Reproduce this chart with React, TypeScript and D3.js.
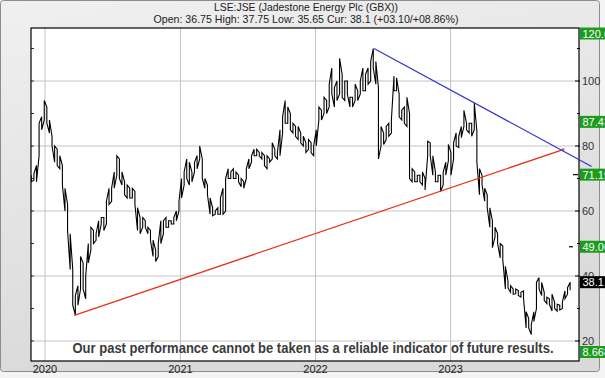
import React from 'react';
import * as d3 from 'd3';

const W = 605;
const H = 378;

// weekly bars (Monday weeks starting 2019-11-25)
const weekStart = Date.UTC(2019, 10, 25);
const highs = [
  71, 71.5, 74, 87, 89, 94, 92, 88, 83, 80, 79, 77, 74, 67, 62, 53, 42, 34, 37, 46,
  44, 40, 50, 55, 54, 53, 57, 58, 58, 63, 67, 67, 72, 77, 76, 72, 69, 68, 67, 67,
  66, 61, 58, 58, 57, 55, 54, 51, 48, 50, 57, 57, 58, 57, 57, 58, 60, 63, 70, 72,
  76, 75, 72, 75, 77, 80, 76, 70, 68, 64, 61, 60, 61, 64, 67, 70, 73, 72, 73, 72,
  71, 70, 69, 73, 76, 77, 79, 79, 78, 78, 77, 77, 76, 81, 79, 78, 85, 89, 94, 92,
  90, 87, 86, 86, 84, 83, 81, 82, 81, 80, 85, 92, 91, 95, 94, 99, 104, 98, 100, 107,
  102, 100, 100, 95, 95, 99, 97, 100, 104, 102, 104, 106, 110, 106, 98, 86, 84, 86, 87, 88,
  101.5, 101, 96, 91, 92, 95, 90, 73, 72, 71, 71, 72, 70, 81.5, 81, 77, 72, 71, 71, 72,
  75, 80.5, 78, 81, 84, 83, 86, 91, 87, 87, 87, 93.3, 84.6, 73, 71, 67, 65, 61, 57, 55,
  53, 50, 49.2, 43, 38.5, 37, 36, 36, 35.5, 35, 35.4, 29, 27, 25, 29, 38, 39.5, 38, 35,
  33.5, 33, 34.4, 32, 31.3, 31, 32, 35.4, 36.4, 38.1,
];
const lows = [
  69, 69.5, 69, 77, 85, 88, 87, 84, 80, 75, 74, 73, 68, 60, 54, 42, 31, 28, 31, 36,
  36, 33, 44, 48, 50, 51, 52, 56, 54, 56, 62, 63, 67, 71, 70, 68, 65, 64, 64, 64,
  62, 54, 53, 55, 55, 53, 51, 46, 44.5, 46, 50, 53, 55, 55, 56, 56, 57, 60, 64, 68,
  70, 68, 69, 72, 73, 76, 70, 67, 65, 59, 58.5, 59, 59, 59, 59, 60, 70, 70, 70, 70,
  69, 67.5, 67, 70, 73, 75, 77, 77, 77, 76, 74, 73, 75, 76, 77, 76, 77, 84, 87, 87,
  85, 84, 83, 82, 81, 80, 78, 79, 78, 77, 80, 88, 88, 90, 90, 92, 96, 92, 94, 96,
  95, 94, 96, 92, 92, 94, 94, 96, 97, 97, 99, 100, 104, 99, 76, 80, 80.5, 82, 83, 84,
  97, 97, 89, 88, 87, 86, 70, 69, 69, 69, 69, 68, 66.5, 77, 77, 71, 69, 69, 66, 68,
  71, 75.5, 71, 76, 80, 79.5, 82.6, 86, 85, 84, 83, 85, 75, 65, 68, 63, 61, 55, 48.7, 52,
  50, 45.6, 45, 36, 36.4, 35, 34.4, 34.5, 34, 33.5, 33.3, 24, 24, 22, 26, 30, 36, 34, 32.5,
  31.5, 31.3, 29.2, 30, 29.2, 29.5, 30, 33, 34.4, 35.6,
];

const yearTicks = ['2020', '2021', '2022', '2023'];
const gridValues = [100, 80, 60, 40, 20];
const minorValues = [110, 90, 70, 50, 30];
const leftMinorValues = [110, 100, 90, 80, 70, 60, 50, 40, 30, 20];

const redLineDates = ['2020-03-20', '2023-11-01'];
const redLineValues = [27.9, 78.9];
const blueLineDates = ['2022-06-08', '2024-01-17'];
const blueLineValues = [110, 73.7];

const targetTexts = ['120.00', '87.43', '71.19', '49.00', '8.668'];
const targetValues = [120, 87.43, 71.19, 49.0, 8.668];
const markValues = [71.19, 49.0];
const curText = '38.1';
const curValue = 38.1;

const title1 = 'LSE:JSE (Jadestone Energy Plc (GBX))';
const title2 = 'Open: 36.75 High: 37.75 Low: 35.65 Cur: 38.1 (+03.10/+08.86%)';
const disclaimer = 'Our past performance cannot be taken as a reliable indicator of future results.';

export default function App() {
  const left = 31;
  const right = 579;
  const top = 28;
  const bottom = 361;

  const x = d3
    .scaleUtc()
    .domain([Date.UTC(2020, 0, 1), Date.UTC(2023, 0, 1)])
    .range([45, 450.6]);
  const y = d3.scaleLinear().domain([20, 100]).range([341, 81]);

  const dates = highs.map((_, i) => d3.utcMonday.offset(new Date(weekStart), i));
  const pts: [number, number][] = [];
  highs.forEach((h, i) => {
    const px = x(dates[i]);
    const a: [number, number] = [px, y(h)];
    const b: [number, number] = [px, y(lows[i])];
    if (i % 2 === 0) pts.push(a, b);
    else pts.push(b, a);
  });
  const pricePath = d3.line()(pts) || '';

  const toPts = (ds: string[], vs: number[]) =>
    ds.map((d, i) => [x(new Date(d + 'T00:00:00Z')), y(vs[i])] as [number, number]);
  const redPts = toPts(redLineDates, redLineValues);
  const bluePts = toPts(blueLineDates, blueLineValues);

  const clampY = (v: number) => Math.max(33.5, Math.min(352, y(v)));
  const font = "'Liberation Sans', Arial, sans-serif";

  return (
    <svg
      width={W}
      height={H}
      style={{ position: 'absolute', left: 0, top: 0 }}
      fontFamily={font}
    >
      <defs>
        <linearGradient id="bg" x1="0" y1="0" x2="0.3" y2="1">
          <stop offset="0" stopColor="#f0f0f0" />
          <stop offset="1" stopColor="#d9d9d9" />
        </linearGradient>
        <clipPath id="plotClip">
          <rect x={left} y={top} width={right - left} height={bottom - top} />
        </clipPath>
      </defs>
      <rect x={0} y={0} width={W} height={H} fill="#f4f4f4" />
      <rect x={0.5} y={0.5} width={599} height={371} rx={3} fill="url(#bg)" stroke="#8c8c8c" />
      <rect x={left} y={top} width={right - left} height={bottom - top} fill="#ffffff" />

      {/* grid */}
      {gridValues.map((v) => (
        <line key={'g' + v} x1={left} x2={right} y1={y(v)} y2={y(v)} stroke="#c4c4c4" strokeWidth={1} />
      ))}
      {yearTicks.map((yr) => {
        const px = x(new Date(yr + '-01-01T00:00:00Z'));
        return <line key={'v' + yr} x1={px} x2={px} y1={top} y2={bottom} stroke="#c4c4c4" strokeWidth={1} />;
      })}

      {/* left minor ticks */}
      {leftMinorValues.map((v) => (
        <line key={'lt' + v} x1={left} x2={left + 3} y1={y(v)} y2={y(v)} stroke="#333" />
      ))}

      <g clipPath="url(#plotClip)">
        <path d={pricePath} fill="none" stroke="#000" strokeWidth={1.1} />
        <line x1={redPts[0][0]} y1={redPts[0][1]} x2={redPts[1][0]} y2={redPts[1][1]} stroke="#e8321e" strokeWidth={1.3} />
      </g>
      <circle cx={redPts[1][0]} cy={redPts[1][1]} r={1.4} fill="#c8508a" />

      {/* target marks */}
      {markValues.map((v, i) => (
        <line key={'m' + v} x1={i === 0 ? 573 : 569} x2={i === 0 ? 578 : 573} y1={y(v)} y2={y(v)} stroke="#000" strokeWidth={1.2} />
      ))}

      {/* frame */}
      <rect x={left} y={top} width={right - left} height={bottom - top} fill="none" stroke="#000" strokeWidth={1.2} />

      {/* right axis ticks */}
      {gridValues.map((v) => (
        <line key={'rt' + v} x1={right - 4} x2={right + 1} y1={y(v)} y2={y(v)} stroke="#000" />
      ))}
      {minorValues.map((v) => (
        <line key={'rm' + v} x1={right - 2} x2={right + 1} y1={y(v)} y2={y(v)} stroke="#000" />
      ))}
      {gridValues.map((v) => (
        <text key={'rl' + v} x={582} y={y(v) + 4} fontSize={11} fill="#333">
          {v}
        </text>
      ))}

      {/* target labels */}
      {targetValues.map((v, i) => {
        const cy = clampY(v);
        return (
          <g key={'tl' + i}>
            <rect x={580} y={cy - 6} width={30} height={12} fill="#1c9c1c" />
            <text x={582.5} y={cy + 4} fontSize={11} fill="#ffffff">
              {targetTexts[i]}
            </text>
          </g>
        );
      })}
      <rect x={580} y={y(curValue) - 6} width={30} height={12} fill="#000" />
      <text x={582.5} y={y(curValue) + 4} fontSize={11} fill="#ffffff">
        {curText}
      </text>

      {/* blue trend line */}
      <line x1={bluePts[0][0]} y1={bluePts[0][1]} x2={bluePts[1][0]} y2={bluePts[1][1]} stroke="#3434cc" strokeWidth={1.2} />

      {/* year labels */}
      {yearTicks.map((yr) => (
        <text key={'yl' + yr} x={x(new Date(yr + '-01-01T00:00:00Z'))} y={373} fontSize={11} fill="#222" textAnchor="middle">
          {yr}
        </text>
      ))}

      {/* titles */}
      <text x={306} y={11} fontSize={11} fill="#222" textAnchor="middle" textLength={184} lengthAdjust="spacingAndGlyphs">
        {title1}
      </text>
      <text x={306} y={23} fontSize={11} fill="#222" textAnchor="middle" textLength={305} lengthAdjust="spacingAndGlyphs">
        {title2}
      </text>

      <text
        x={313}
        y={353}
        fontSize={14.5}
        fontWeight="bold"
        fill="#3c3c3c"
        textAnchor="middle"
        textLength={481}
        lengthAdjust="spacingAndGlyphs"
      >
        {disclaimer}
      </text>
    </svg>
  );
}
